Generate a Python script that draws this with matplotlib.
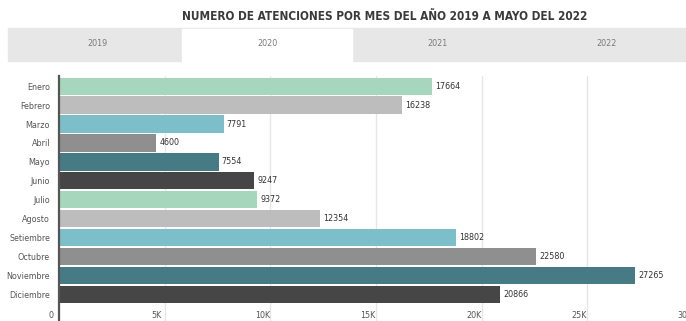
import numpy as np
import matplotlib.pyplot as plt
import matplotlib.transforms as mtransforms
from matplotlib import font_manager
from matplotlib.patches import Rectangle

# fuente angosta si existe alguna instalada
nombres = {f.name for f in font_manager.fontManager.ttflist}
condensadas = [f for f in font_manager.fontManager.ttflist
               if f.name == 'DejaVu Sans' and f.stretch == 'condensed']
estiramiento = 'normal'
if 'Liberation Sans Narrow' in nombres:
    plt.rcParams['font.family'] = ['Liberation Sans Narrow', 'DejaVu Sans']
    escala = 1.0
elif condensadas:
    plt.rcParams['font.family'] = ['DejaVu Sans']
    plt.rcParams['font.stretch'] = 'condensed'
    escala = 0.98
else:
    plt.rcParams['font.family'] = ['DejaVu Sans']
    escala = 0.9

# atenciones por mes, 2020
meses = ['Enero', 'Febrero', 'Marzo', 'Abril', 'Mayo', 'Junio', 'Julio',
         'Agosto', 'Setiembre', 'Octubre', 'Noviembre', 'Diciembre']
atenciones = [17664, 16238, 7791, 4600, 7554, 9247, 9372,
              12354, 18802, 22580, 27265, 20866]
anios = ['2019', '2020', '2021', '2022']
anio_activo = '2020'
ticks_x = [0, 5000, 10000, 15000, 20000, 25000, 30000]
ticks_x_nombres = ['0', '5K', '10K', '15K', '20K', '25K', '30K']

paleta = ['#a6d7bd', '#bdbdbd', '#7cbfca', '#8f8f8f', '#467b85', '#464646']
colores = [paleta[i % len(paleta)] for i in range(len(meses))]

W, H = 686, 321
fig = plt.figure(figsize=(W / 100, H / 100), dpi=100)
fs = 6.5 * escala

# pestañas de años
fig.patches.append(Rectangle((8 / W, 1 - 61 / H), (W - 8) / W, 33 / H,
                             transform=fig.transFigure, color='#e7e7e7', zorder=0))
ancho_tab = 170
for i, a in enumerate(anios):
    x0 = 12 + i * ancho_tab
    if a == anio_activo:
        fig.patches.append(Rectangle((x0 / W, 1 - 62 / H), ancho_tab / W, 33 / H,
                                     transform=fig.transFigure, color='white', zorder=1))
    fig.text((x0 + ancho_tab / 2) / W, 1 - 44 / H, a, ha='center', va='center',
             fontsize=fs, color='#7a7a7a')

titulo = fig.text(385 / W, 1 - 17 / H,
                  'NUMERO DE ATENCIONES POR MES DEL AÑO 2019 A MAYO DEL 2022',
                  ha='center', va='center', fontsize=8.5, fontweight='bold', color='#3a3a3a')

ax = fig.add_axes([59 / W, 0, 634 / W, (H - 76) / H])
y = np.arange(len(meses))
barras = ax.barh(y, atenciones, height=0.9, color=colores, zorder=2)
for b, v in zip(barras, atenciones):
    ax.text(b.get_width() + 150, b.get_y() + b.get_height() / 2, str(v),
            va='center', ha='left', fontsize=fs, color='#333333', zorder=3)

ax.set_xlim(0, 30000)
ax.set_ylim(12.38, -0.53)
ax.set_yticks(y)
ax.set_yticklabels(meses)
ax.set_xticks(ticks_x)
ax.set_xticklabels(ticks_x_nombres)
ax.tick_params(axis='y', length=0, pad=6.5, labelsize=fs, labelcolor='#555555')
ax.tick_params(axis='x', length=0, pad=-7.5, labelsize=fs, labelcolor='#555555')
desplaza = mtransforms.ScaledTranslation(-8 / 100, 0, fig.dpi_scale_trans)
for lbl in ax.get_xticklabels():
    lbl.set_transform(lbl.get_transform() + desplaza)

ax.grid(axis='x', color='#e6e6e6', linewidth=1, zorder=0)
ax.set_axisbelow(True)
for s in ['top', 'right', 'bottom']:
    ax.spines[s].set_visible(False)
ax.spines['left'].set_color('#555555')
ax.spines['left'].set_linewidth(1.6)

# ajustar el ancho del título a unos 404 px
fig.canvas.draw()
ancho = titulo.get_window_extent().width
if ancho > 0:
    titulo.set_fontsize(8.5 * min(1.0, 404 / ancho))

fig.savefig('out.png', dpi=100)
